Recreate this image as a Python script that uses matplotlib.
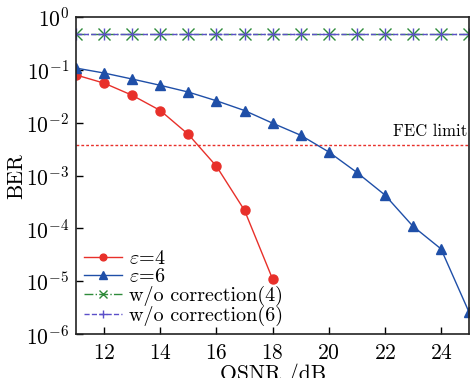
import numpy as np
import matplotlib
matplotlib.use("Agg")
import matplotlib.pyplot as plt

plt.rcParams['font.family'] = 'serif'
plt.rcParams['font.serif'] = ['cmr10', 'DejaVu Serif']
plt.rcParams['mathtext.fontset'] = 'cm'
plt.rcParams['axes.formatter.use_mathtext'] = True

# BER vs OSNR
osnr_eps4 = [11, 12, 13, 14, 15, 16, 17, 18]
ber_eps4 = [0.08, 0.056, 0.033, 0.017, 0.006, 0.0015, 2.2e-4, 1.1e-5]

osnr_eps6 = list(range(11, 26))
ber_eps6 = [0.108, 0.087, 0.067, 0.051, 0.038, 0.026, 0.017, 0.0098, 0.0058,
            0.0028, 0.00115, 4.3e-4, 1.1e-4, 4.1e-5, 2.6e-6]

osnr_raw = list(range(11, 26))
ber_raw4 = [0.48] * len(osnr_raw)
ber_raw6 = [0.48] * len(osnr_raw)

fec_limit = 3.8e-3
xticks = [12, 14, 16, 18, 20, 22, 24]

fig = plt.figure(figsize=(4.7, 3.78), dpi=100)
ax = fig.add_axes([0.162, 0.116, 0.836, 0.839])

ax.axhline(fec_limit, color='#e8302a', ls=(0, (2, 1.5)), lw=1.0)
ax.plot(osnr_eps4, ber_eps4, '-o', color='#e8302a', ms=6.5, lw=1.0,
        label=r'$\varepsilon$=4')
ax.plot(osnr_eps6, ber_eps6, '-^', color='#1f4fa8', ms=7, lw=1.0,
        label=r'$\varepsilon$=6')
ax.plot(osnr_raw, ber_raw4, '-.x', color='#2e8b3a', ms=8, lw=1.0, mew=1.0,
        label='w/o correction(4)')
ax.plot(osnr_raw, ber_raw6, '--+', color='#5b4fc9', ms=8, lw=1.0, mew=1.0,
        label='w/o correction(6)')

ax.text(24.92, fec_limit * 1.3, 'FEC limit', ha='right', va='bottom', fontsize=12)

ax.set_yscale('log')
ax.set_xlim(11, 25)
ax.set_ylim(1e-6, 1)
ax.set_xticks(xticks)
ax.yaxis.set_minor_locator(matplotlib.ticker.NullLocator())
ax.tick_params(direction='in', labelsize=15.5, length=5, width=1)
ax.tick_params(axis='x', pad=7)
ax.tick_params(axis='y', pad=5)
for s in ax.spines.values():
    s.set_linewidth(1.2)
    s.set_color('#222222')

ax.set_xlabel('OSNR /dB', fontsize=15.5, labelpad=0)
ax.set_ylabel('BER', fontsize=15.5, labelpad=0)

leg = ax.legend(loc='lower left', frameon=False, fontsize=14.5,
                handlelength=1.9, handletextpad=0.3, labelspacing=0.0,
                borderaxespad=0.3, borderpad=0.1, markerscale=0.75)

fig.savefig('out.png', dpi=100)
